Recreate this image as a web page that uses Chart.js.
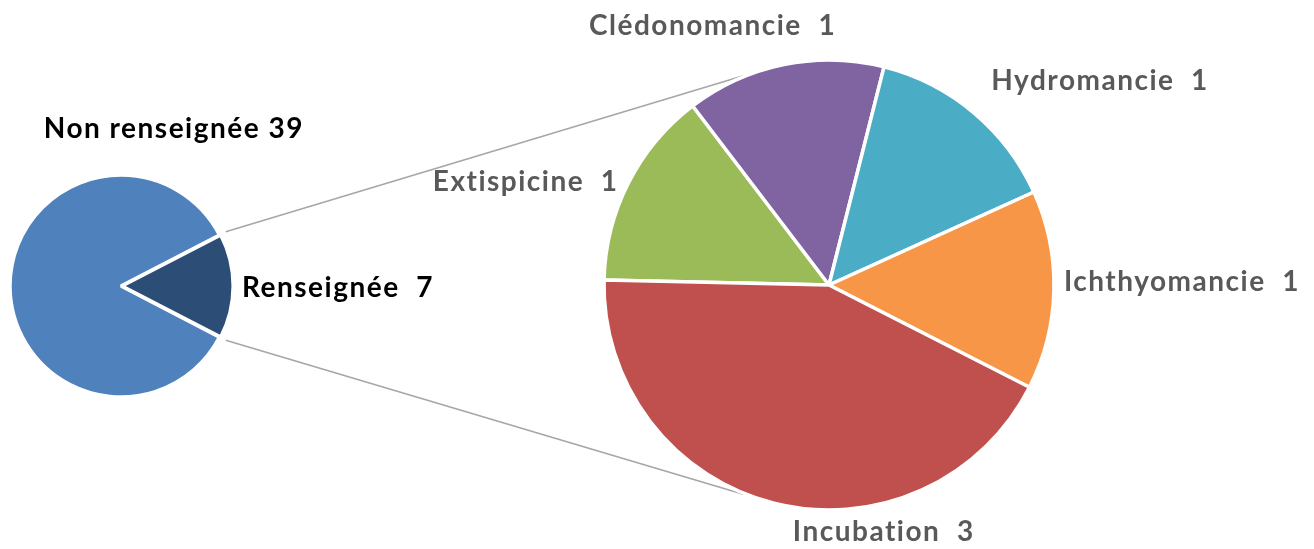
<!DOCTYPE html>
<html>
<head>
<meta charset="utf-8">
<script src="https://cdn.jsdelivr.net/npm/chart.js@4.4.0/dist/chart.umd.min.js"></script>
<style>
  html, body { margin: 0; padding: 0; background: #fff; }
  #wrap { position: relative; width: 1314px; height: 549px; overflow: hidden; }
  #wrap canvas { position: absolute; left: 0; top: 0; }
</style>
</head>
<body>
<div id="wrap">
  <canvas id="pieMain" width="1314" height="549"></canvas>
  <canvas id="pieDetail" width="1314" height="549"></canvas>
</div>
<script>
// main pie : split between documented / undocumented
const mainLabels = ['Non renseignée', 'Renseignée'];
const mainValues = [39, 7];

// secondary pie : detail of the "Renseignée" part
const detailLabels = ['Extispicine', 'Clédonomancie', 'Hydromancie', 'Ichthyomancie', 'Incubation'];
const detailValues = [1, 1, 1, 1, 3];

const mainColors = ['#4F81BD', '#2C4D75'];
const detailColors = ['#9BBB59', '#8064A2', '#4BACC6', '#F79646', '#C0504D'];

// draws "label  value" outside each slice, with a small nudge per label
const sliceLabels = {
    id: 'sliceLabels',
    afterDatasetsDraw(chart, args, opts) {
        const ctx = chart.ctx;
        const meta = chart.getDatasetMeta(0);
        const values = chart.data.datasets[0].data;
        ctx.save();
        ctx.font = 'bold ' + opts.size + 'px Lato';
        ctx.letterSpacing = opts.spacing + 'px';
        ctx.fillStyle = opts.color;
        ctx.textAlign = 'center';
        ctx.textBaseline = 'alphabetic';
        meta.data.forEach((arc, i) => {
            const p = arc.getProps(['x', 'y', 'startAngle', 'endAngle', 'outerRadius'], true);
            const mid = (p.startAngle + p.endAngle) / 2;
            const text = chart.data.labels[i] + opts.sep[i] + values[i];
            const w = ctx.measureText(text).width;
            const capH = opts.size * 0.72;
            const r = p.outerRadius + opts.gap;
            const nudge = opts.nudge[i] || [0, 0];
            const cx = p.x + Math.cos(mid) * r + Math.cos(mid) * w / 2 + nudge[0];
            const cy = p.y + Math.sin(mid) * r + Math.sin(mid) * capH / 2 + nudge[1];
            ctx.fillText(text, cx, cy + capH / 2);
        });
        ctx.restore();
    }
};

// grey lines from the small slice to the secondary pie (tangents)
const connectors = {
    id: 'connectors',
    beforeDatasetsDraw(chart, args, opts) {
        const src = opts.source();
        if (!src) return;
        const a = src.getDatasetMeta(0).data[1].getProps(['x', 'y', 'startAngle', 'endAngle', 'outerRadius'], true);
        const b = chart.getDatasetMeta(0).data[0].getProps(['x', 'y', 'outerRadius'], true);
        const ctx = chart.ctx;
        ctx.save();
        ctx.strokeStyle = '#A6A6A6';
        ctx.lineWidth = 1.5;
        [[a.startAngle, 1], [a.endAngle, -1]].forEach(([ang, side]) => {
            const px = a.x + Math.cos(ang) * (a.outerRadius + 7);
            const py = a.y + Math.sin(ang) * (a.outerRadius + 7);
            const dx = px - b.x, dy = py - b.y;
            const d = Math.sqrt(dx * dx + dy * dy);
            const alpha = Math.acos(b.outerRadius / d);
            const base = Math.atan2(dy, dx);
            const t = base + side * alpha;
            const tx = b.x + Math.cos(t) * b.outerRadius;
            const ty = b.y + Math.sin(t) * b.outerRadius;
            ctx.beginPath();
            ctx.moveTo(px, py);
            ctx.lineTo(px + (tx - px) * 0.96, py + (ty - py) * 0.96);
            ctx.stroke();
        });
        ctx.restore();
    }
};

const mainChart = new Chart(document.getElementById('pieMain'), {
    type: 'pie',
    data: {
        labels: mainLabels,
        datasets: [{
            data: mainValues,
            backgroundColor: mainColors,
            borderColor: '#ffffff',
            borderWidth: 3.5,
            offset: [0, 4]
        }]
    },
    options: {
        responsive: false,
        animation: false,
        events: [],
        rotation: 117.4,
        radius: 111,
        layout: { padding: { left: 10, right: 1314 - 232, top: 175, bottom: 549 - 397 } },
        plugins: {
            legend: { display: false },
            tooltip: { enabled: false },
            sliceLabels: { size: 28, spacing: 1.5, color: '#000000', gap: 8, sep: [' ', '  '], nudge: [[302, -158], [2, 1]] }
        }
    },
    plugins: [sliceLabels]
});

new Chart(document.getElementById('pieDetail'), {
    type: 'pie',
    data: {
        labels: detailLabels,
        datasets: [{
            data: detailValues,
            backgroundColor: detailColors,
            borderColor: '#ffffff',
            borderWidth: 3.5
        }]
    },
    options: {
        responsive: false,
        animation: false,
        events: [],
        rotation: 271.3,
        radius: 225,
        layout: { padding: { left: 604, right: 1314 - 1054, top: 60, bottom: 549 - 510 } },
        plugins: {
            legend: { display: false },
            tooltip: { enabled: false },
            connectors: { source: () => mainChart },
            sliceLabels: {
                size: 28, spacing: 1.5, color: '#595959', gap: 8, sep: ['  ', '  ', '  ', '  ', '  '],
                nudge: [[-13, 6], [-45, -22], [52, -19], [2, -10], [134, 10]]
            }
        }
    },
    plugins: [sliceLabels, connectors]
});
</script>
</body>
</html>
